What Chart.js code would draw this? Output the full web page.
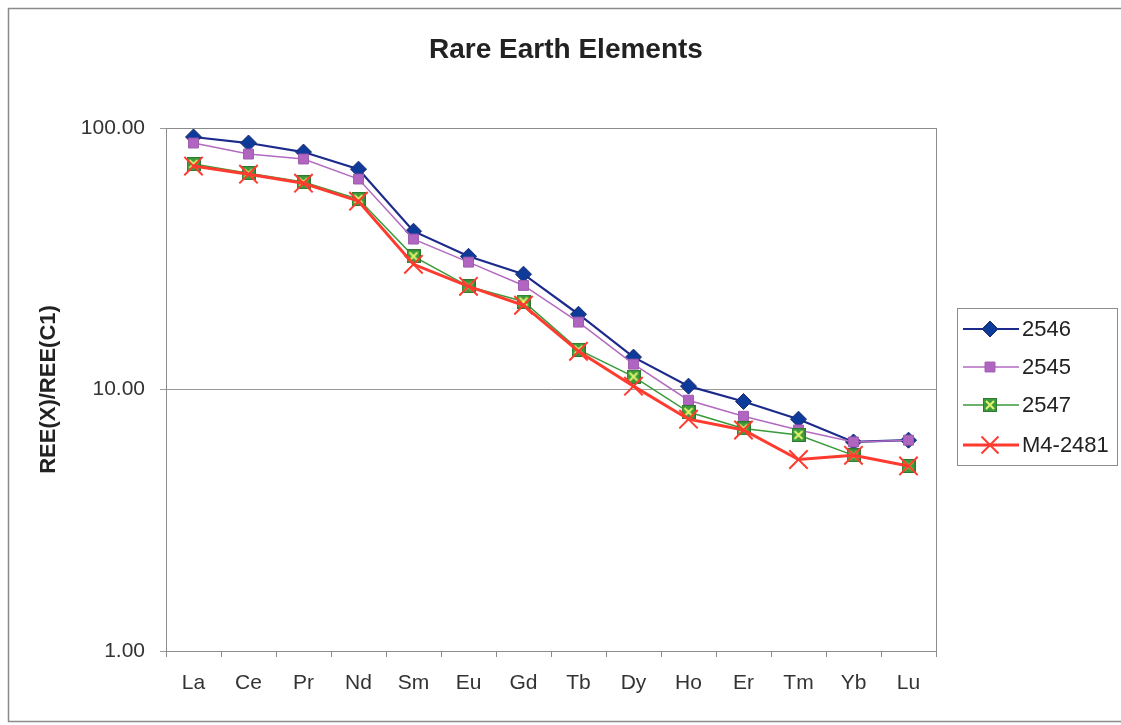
<!DOCTYPE html>
<html>
<head>
<meta charset="utf-8">
<title>Rare Earth Elements</title>
<script src="https://cdn.jsdelivr.net/npm/chart.js@4/dist/chart.umd.min.js"></script>
<style>
  html, body { margin: 0; padding: 0; background: #fff; }
  #wrap { width: 1121px; height: 725px; position: relative; }
</style>
</head>
<body>
<div id="wrap"><canvas id="reeChart" width="1121" height="725"></canvas></div>
<script>
// element labels (x axis)
const elements = ['La', 'Ce', 'Pr', 'Nd', 'Sm', 'Eu', 'Gd', 'Tb', 'Dy', 'Ho', 'Er', 'Tm', 'Yb', 'Lu'];

// chondrite-normalised values
const s2546 = [92.4, 87.6, 80.9, 69.6, 40.3, 32.3, 27.6, 19.4, 13.3, 10.3, 9.0, 7.7, 6.3, 6.4];
const s2545 = [87.6, 79.5, 76.1, 63.8, 37.6, 30.7, 25.0, 18.1, 12.5, 9.1, 7.9, 7.0, 6.3, 6.4];
const s2547 = [72.8, 67.2, 62.1, 53.5, 32.3, 24.8, 21.7, 14.2, 11.2, 8.2, 7.1, 6.7, 5.6, 5.1];
const sM4 = [71.5, 66.6, 61.5, 52.5, 30.1, 24.8, 21.0, 14.0, 10.3, 7.7, 7.0, 5.4, 5.6, 5.1];

const yTicks = [1, 10, 100];

const FONT = '"Liberation Sans", Arial, sans-serif';

// green square with a yellow x, like the Excel marker
function makeBoxX(size) {
  const c = document.createElement('canvas');
  c.width = size;
  c.height = size;
  const ctx = c.getContext('2d');
  ctx.fillStyle = '#3d9a3d';
  ctx.fillRect(0, 0, size, size);
  ctx.strokeStyle = '#2e7a2e';
  ctx.lineWidth = 1;
  ctx.strokeRect(0.5, 0.5, size - 1, size - 1);
  ctx.strokeStyle = '#e4f46a';
  ctx.lineWidth = 2;
  ctx.beginPath();
  ctx.moveTo(3, 3); ctx.lineTo(size - 3, size - 3);
  ctx.moveTo(size - 3, 3); ctx.lineTo(3, size - 3);
  ctx.stroke();
  return c;
}
const boxX = makeBoxX(14);

const datasets = [
  {
    label: '2546', data: s2546, order: 3,
    borderColor: '#1c2a8c', backgroundColor: '#0e3a9a', borderWidth: 2.2,
    pointStyle: 'rectRot', pointRadius: 8, pointBorderColor: '#1c2a6c', pointBorderWidth: 1
  },
  {
    label: '2545', data: s2545, order: 2,
    borderColor: '#b36ac0', backgroundColor: '#b066c0', borderWidth: 1.5,
    pointStyle: 'rect', pointRadius: 7, pointBorderColor: '#a05ab0', pointBorderWidth: 1
  },
  {
    label: '2547', data: s2547, order: 1,
    borderColor: '#3a9a3a', backgroundColor: '#3d9a3d', borderWidth: 1.5,
    pointStyle: boxX, pointRadius: 7
  },
  {
    label: 'M4-2481', data: sM4, order: 0,
    borderColor: '#ff3b30', backgroundColor: '#ff3b30', borderWidth: 3,
    pointStyle: 'crossRot', pointRadius: 13, pointBorderColor: '#ff3b30', pointBorderWidth: 2
  }
];

// outer frame, title, plot frame and the boxed legend on the right
const framePlugin = {
  id: 'frames',
  beforeDraw(chart) {
    const ctx = chart.ctx;
    ctx.save();
    ctx.fillStyle = '#fff';
    ctx.fillRect(0, 0, chart.width, chart.height);
    ctx.strokeStyle = '#8a8a8a';
    ctx.lineWidth = 1.5;
    ctx.strokeRect(8.5, 8.5, 1130, 713);

    // title, centred on the whole picture
    ctx.fillStyle = '#222';
    ctx.font = 'bold 28px ' + FONT;
    ctx.textAlign = 'center';
    ctx.textBaseline = 'alphabetic';
    ctx.fillText('Rare Earth Elements', 566, 58);
    ctx.restore();
  },
  afterDatasetsDraw(chart) {
    const a = chart.chartArea;
    const ctx = chart.ctx;
    ctx.save();
    ctx.strokeStyle = '#8c8c8c';
    ctx.lineWidth = 1;
    ctx.strokeRect(Math.round(a.left) + 0.5, Math.round(a.top) + 0.5, Math.round(a.right - a.left), Math.round(a.bottom - a.top));

    // legend
    const lx = 957, ly = 308;
    ctx.strokeStyle = '#8c8c8c';
    ctx.strokeRect(lx + 0.5, ly + 0.5, 160, 157);
    const rows = [329, 367, 405, 445];
    ctx.font = '22px ' + FONT;
    ctx.textBaseline = 'middle';
    chart.data.datasets.forEach((ds, i) => {
      const y = rows[i];
      ctx.strokeStyle = ds.borderColor;
      ctx.lineWidth = ds.borderWidth;
      ctx.beginPath();
      ctx.moveTo(963, y);
      ctx.lineTo(1019, y);
      ctx.stroke();
      const mx = 990;
      if (ds.pointStyle instanceof HTMLCanvasElement) {
        ctx.drawImage(ds.pointStyle, mx - 7, y - 7);
      } else {
        ctx.fillStyle = ds.backgroundColor;
        ctx.strokeStyle = ds.pointBorderColor;
        ctx.lineWidth = ds.pointBorderWidth;
        Chart.helpers.drawPoint(ctx, {
          pointStyle: ds.pointStyle,
          radius: ds.pointStyle === 'crossRot' ? 12 : ds.pointRadius,
          rotation: 0,
          borderWidth: ds.pointBorderWidth
        }, mx, y);
      }
      ctx.fillStyle = '#222';
      ctx.fillText(ds.label, 1022, y + 1);
    });
    ctx.restore();
  }
};

new Chart(document.getElementById('reeChart'), {
  type: 'line',
  data: { labels: elements, datasets: datasets },
  options: {
    responsive: false,
    animation: false,
    layout: { padding: { left: 0, right: 185, top: 128, bottom: 0 } },
    elements: { line: { tension: 0 } },
    plugins: {
      legend: { display: false },
      tooltip: { enabled: false },
      title: { display: false }
    },
    scales: {
      x: {
        offset: true,
        grid: { display: true, offset: true, drawOnChartArea: false, drawTicks: true, tickLength: 6, color: '#8c8c8c' },
        border: { display: true, color: '#8c8c8c' },
        ticks: {
          color: '#333', padding: 14, maxRotation: 0,
          font: { family: FONT, size: 21 }
        },
        afterFit(scale) { scale.height = 74; }
      },
      y: {
        type: 'logarithmic',
        min: 1,
        max: 100,
        afterBuildTicks(scale) { scale.ticks = yTicks.map(v => ({ value: v })); },
        grid: { color: '#999', drawTicks: true, tickLength: 6 },
        border: { display: true, color: '#8c8c8c' },
        ticks: {
          color: '#333', padding: 15,
          font: { family: FONT, size: 21 },
          callback: v => Number(v).toFixed(2)
        },
        title: {
          display: true,
          text: 'REE(X)/REE(C1)',
          color: '#222',
          font: { family: FONT, size: 22, weight: 'bold' },
          padding: { top: 36, bottom: 0 }
        },
        afterFit(scale) { scale.width = 166; }
      }
    }
  },
  plugins: [framePlugin]
});
</script>
</body>
</html>
